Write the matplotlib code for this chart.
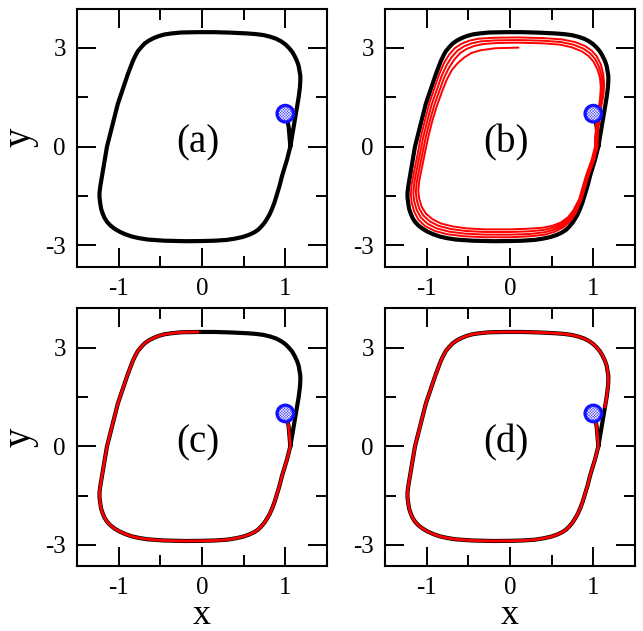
import numpy as np
import matplotlib.pyplot as plt
from matplotlib.ticker import FixedLocator

plt.rcParams['font.family'] = ['Liberation Serif', 'DejaVu Serif']
plt.rcParams['hatch.linewidth'] = 0.4

# start point of every trajectory (blue marker)
start_x, start_y = 1.0, 1.0

# transient from the start point onto the cycle
trans_x = [1.00, 1.02, 1.04, 1.05, 1.06]
trans_y = [1.00, 0.85, 0.60, 0.30, 0.00]

# limit cycle, traced clockwise from the right side at y=0
cyc_x = [1.06, 1.04, 1.02, 0.99, 0.96, 0.93, 0.90, 0.87, 0.84, 0.81,
         0.78, 0.75, 0.71, 0.67, 0.62, 0.56, 0.49, 0.40, 0.30, 0.15,
         0.00, -0.20, -0.45, -0.65, -0.75, -0.84, -0.92, -0.99, -1.05, -1.10,
         -1.14, -1.17, -1.19, -1.21, -1.22, -1.23, -1.23, -1.22, -1.20, -1.18,
         -1.16, -1.14, -1.11, -1.08, -1.05, -1.01, -0.97, -0.93, -0.89, -0.86,
         -0.83, -0.80, -0.77, -0.73, -0.69, -0.64, -0.58, -0.52, -0.45, -0.37,
         -0.25, -0.05, 0.15, 0.35, 0.55, 0.65, 0.74, 0.82, 0.89, 0.95,
         1.00, 1.04, 1.08, 1.11, 1.14, 1.16, 1.17, 1.18, 1.18, 1.175,
         1.16, 1.14, 1.12, 1.10, 1.08, 1.06]
cyc_y = [0.00, -0.20, -0.40, -0.65, -0.90, -1.20, -1.45, -1.70, -1.90, -2.07,
         -2.20, -2.32, -2.44, -2.54, -2.62, -2.69, -2.75, -2.80, -2.84, -2.865,
         -2.875, -2.88, -2.865, -2.83, -2.79, -2.74, -2.67, -2.59, -2.50, -2.40,
         -2.29, -2.17, -2.05, -1.90, -1.75, -1.55, -1.40, -1.20, -0.90, -0.60,
         -0.30, 0.00, 0.30, 0.60, 0.90, 1.30, 1.60, 1.90, 2.20, 2.40,
         2.60, 2.76, 2.90, 3.02, 3.13, 3.22, 3.30, 3.36, 3.41, 3.44,
         3.47, 3.48, 3.48, 3.465, 3.44, 3.42, 3.39, 3.34, 3.28, 3.20,
         3.11, 3.01, 2.89, 2.76, 2.60, 2.45, 2.30, 2.15, 2.00, 1.80,
         1.50, 1.20, 0.90, 0.60, 0.30, 0.00]

# panel (b): red trajectory slowly spiralling inwards (4 turns)
red_b_x = [1.00, 1.02, 1.04, 1.05, 1.05, 1.01, 0.94, 0.86, 0.79, 0.73, 0.64, 0.54, 0.42, 0.25, 0.00,
           -0.30, -0.55, -0.75, -0.90, -1.02, -1.10, -1.15, -1.18, -1.19, -1.18, -1.15, -1.11,
           -1.07, -1.02, -0.97, -0.91, -0.85, -0.79, -0.73, -0.66, -0.58, -0.49, -0.38, -0.20,
           0.10, 0.40, 0.62, 0.78, 0.90, 0.98, 1.04, 1.09, 1.12, 1.13, 1.12, 1.09, 1.07, 1.05,
           1.04,
           1.00, 0.93, 0.85, 0.78, 0.72, 0.63, 0.53, 0.41, 0.24, 0.00, -0.30, -0.54, -0.73,
           -0.88, -0.99, -1.07, -1.12, -1.15, -1.16, -1.15, -1.12, -1.08, -1.04, -0.99, -0.94,
           -0.88, -0.82, -0.76, -0.70, -0.63, -0.55, -0.46, -0.35, -0.18, 0.10, 0.40, 0.61,
           0.76, 0.88, 0.96, 1.02, 1.07, 1.10, 1.11, 1.10, 1.08, 1.06, 1.04, 1.03,
           0.99, 0.92, 0.84, 0.77, 0.71, 0.62, 0.52, 0.40, 0.23, 0.00, -0.30, -0.53, -0.71,
           -0.86, -0.96, -1.04, -1.09, -1.12, -1.13, -1.12, -1.09, -1.05, -1.01, -0.96, -0.91,
           -0.85, -0.79, -0.73, -0.67, -0.60, -0.52, -0.43, -0.32, -0.16, 0.10, 0.40, 0.60,
           0.74, 0.86, 0.94, 1.00, 1.05, 1.08, 1.09, 1.08, 1.06, 1.04, 1.02, 1.02,
           0.98, 0.91, 0.83, 0.76, 0.70, 0.61, 0.51, 0.39, 0.22, 0.00, -0.30, -0.52, -0.69,
           -0.83, -0.93, -1.01, -1.06, -1.09, -1.10, -1.09, -1.06, -1.02, -0.98, -0.93, -0.88,
           -0.82, -0.76, -0.70, -0.63, -0.55, -0.46, -0.35, -0.18, 0.10]
red_b_y = [1.00, 0.85, 0.60, 0.30, 0.00, -0.40, -0.90, -1.60, -2.02, -2.25, -2.46, -2.59, -2.68, -2.73, -2.76,
           -2.76, -2.73, -2.67, -2.57, -2.42, -2.22, -1.98, -1.70, -1.45, -1.15, -0.75, -0.25,
           0.30, 0.80, 1.30, 1.75, 2.20, 2.55, 2.80, 3.00, 3.13, 3.22, 3.28, 3.31,
           3.32, 3.30, 3.26, 3.18, 3.06, 2.92, 2.75, 2.50, 2.20, 1.90, 1.55, 1.15, 0.75, 0.35,
           0.00,
           -0.40, -0.90, -1.60, -2.00, -2.22, -2.41, -2.53, -2.61, -2.66, -2.68, -2.68, -2.65,
           -2.59, -2.49, -2.35, -2.16, -1.93, -1.66, -1.42, -1.12, -0.72, -0.22, 0.30, 0.80,
           1.28, 1.72, 2.15, 2.48, 2.72, 2.92, 3.05, 3.14, 3.20, 3.23, 3.24, 3.22, 3.18,
           3.10, 2.98, 2.84, 2.67, 2.42, 2.14, 1.85, 1.50, 1.10, 0.70, 0.30, 0.00,
           -0.40, -0.90, -1.60, -1.97, -2.18, -2.36, -2.47, -2.54, -2.58, -2.60, -2.60, -2.57,
           -2.51, -2.41, -2.28, -2.10, -1.88, -1.62, -1.38, -1.09, -0.70, -0.20, 0.30, 0.80,
           1.25, 1.68, 2.10, 2.41, 2.64, 2.84, 2.97, 3.06, 3.12, 3.15, 3.16, 3.14, 3.10,
           3.02, 2.90, 2.76, 2.59, 2.35, 2.08, 1.80, 1.45, 1.05, 0.65, 0.28, 0.00,
           -0.40, -0.90, -1.60, -1.94, -2.14, -2.31, -2.41, -2.47, -2.50, -2.52, -2.52, -2.49,
           -2.43, -2.34, -2.21, -2.04, -1.83, -1.58, -1.35, -1.06, -0.68, -0.18, 0.30, 0.80,
           1.22, 1.64, 2.03, 2.32, 2.53, 2.71, 2.85, 2.93, 2.99, 3.01]

panel_tags = ['(a)', '(b)', '(c)', '(d)']
xtick_major = [-1, 0, 1]
xtick_minor = [-0.5, 0.5]
ytick_major = [-3, 0, 3]
ytick_minor = [-1.5, 1.5]

# how far along the cycle the red (true) orbit goes in (c) and (d)
n_c = 62
n_d = 82

fig = plt.figure(figsize=(6.43, 6.31), dpi=100)
W, H = 643.0, 631.0
boxes = [(77, 8.5), (385, 8.5), (77, 308.3), (385, 308.3)]
axes = []
for (px, py) in boxes:
    ax = fig.add_axes([px / W, 1 - (py + 258) / H, 250 / W, 258 / H])
    axes.append(ax)

full_x = trans_x + cyc_x[1:]
full_y = trans_y + cyc_y[1:]

for i, ax in enumerate(axes):
    ax.plot(full_x, full_y, color='black', lw=3.0, solid_capstyle='round',
            solid_joinstyle='round', zorder=2)
    if i == 1:
        ax.plot(red_b_x, red_b_y, color='red', lw=1.4, solid_joinstyle='round', zorder=3)
    elif i == 2:
        ax.plot(trans_x + cyc_x[1:n_c], trans_y + cyc_y[1:n_c], color='red', lw=2.0,
                solid_joinstyle='round', zorder=3)
    elif i == 3:
        ax.plot(trans_x + cyc_x[1:n_d], trans_y + cyc_y[1:n_d], color='red', lw=2.0,
                solid_joinstyle='round', zorder=3)
    # blue start marker: blue disc, white dotted pattern, blue ring
    ax.scatter([start_x], [start_y], s=150, facecolor='#3a3aff', edgecolor='none', zorder=5)
    ax.scatter([start_x], [start_y], s=85, facecolor='none', edgecolor='white',
               hatch='x' * 12, linewidths=0, zorder=6)
    ax.scatter([start_x], [start_y], s=150, facecolor='none', edgecolor='#1010ff',
               linewidths=2.0, zorder=7)
    ax.text(-0.05, 0.1, panel_tags[i], fontsize=28, ha='center', va='center')

    ax.set_xlim(-1.5, 1.5)
    ax.set_ylim(-3.65, 4.2)
    ax.xaxis.set_major_locator(FixedLocator(xtick_major))
    ax.xaxis.set_minor_locator(FixedLocator(xtick_minor))
    ax.yaxis.set_major_locator(FixedLocator(ytick_major))
    ax.yaxis.set_minor_locator(FixedLocator(ytick_minor))
    ax.set_xticklabels([str(v) for v in xtick_major])
    ax.set_yticklabels([str(v) for v in ytick_major])
    ax.tick_params(which='both', direction='in', top=True, right=True, width=1.4,
                   labelsize=18)
    ax.tick_params(which='major', length=14, pad=8)
    ax.tick_params(which='minor', length=8)
    for sp in ax.spines.values():
        sp.set_linewidth(1.5)

for ax in (axes[0], axes[2]):
    ax.set_ylabel('y', fontsize=28, labelpad=5)
for ax in (axes[2], axes[3]):
    ax.set_xlabel('x', fontsize=26, labelpad=0)

fig.savefig('out.png', dpi=100)
